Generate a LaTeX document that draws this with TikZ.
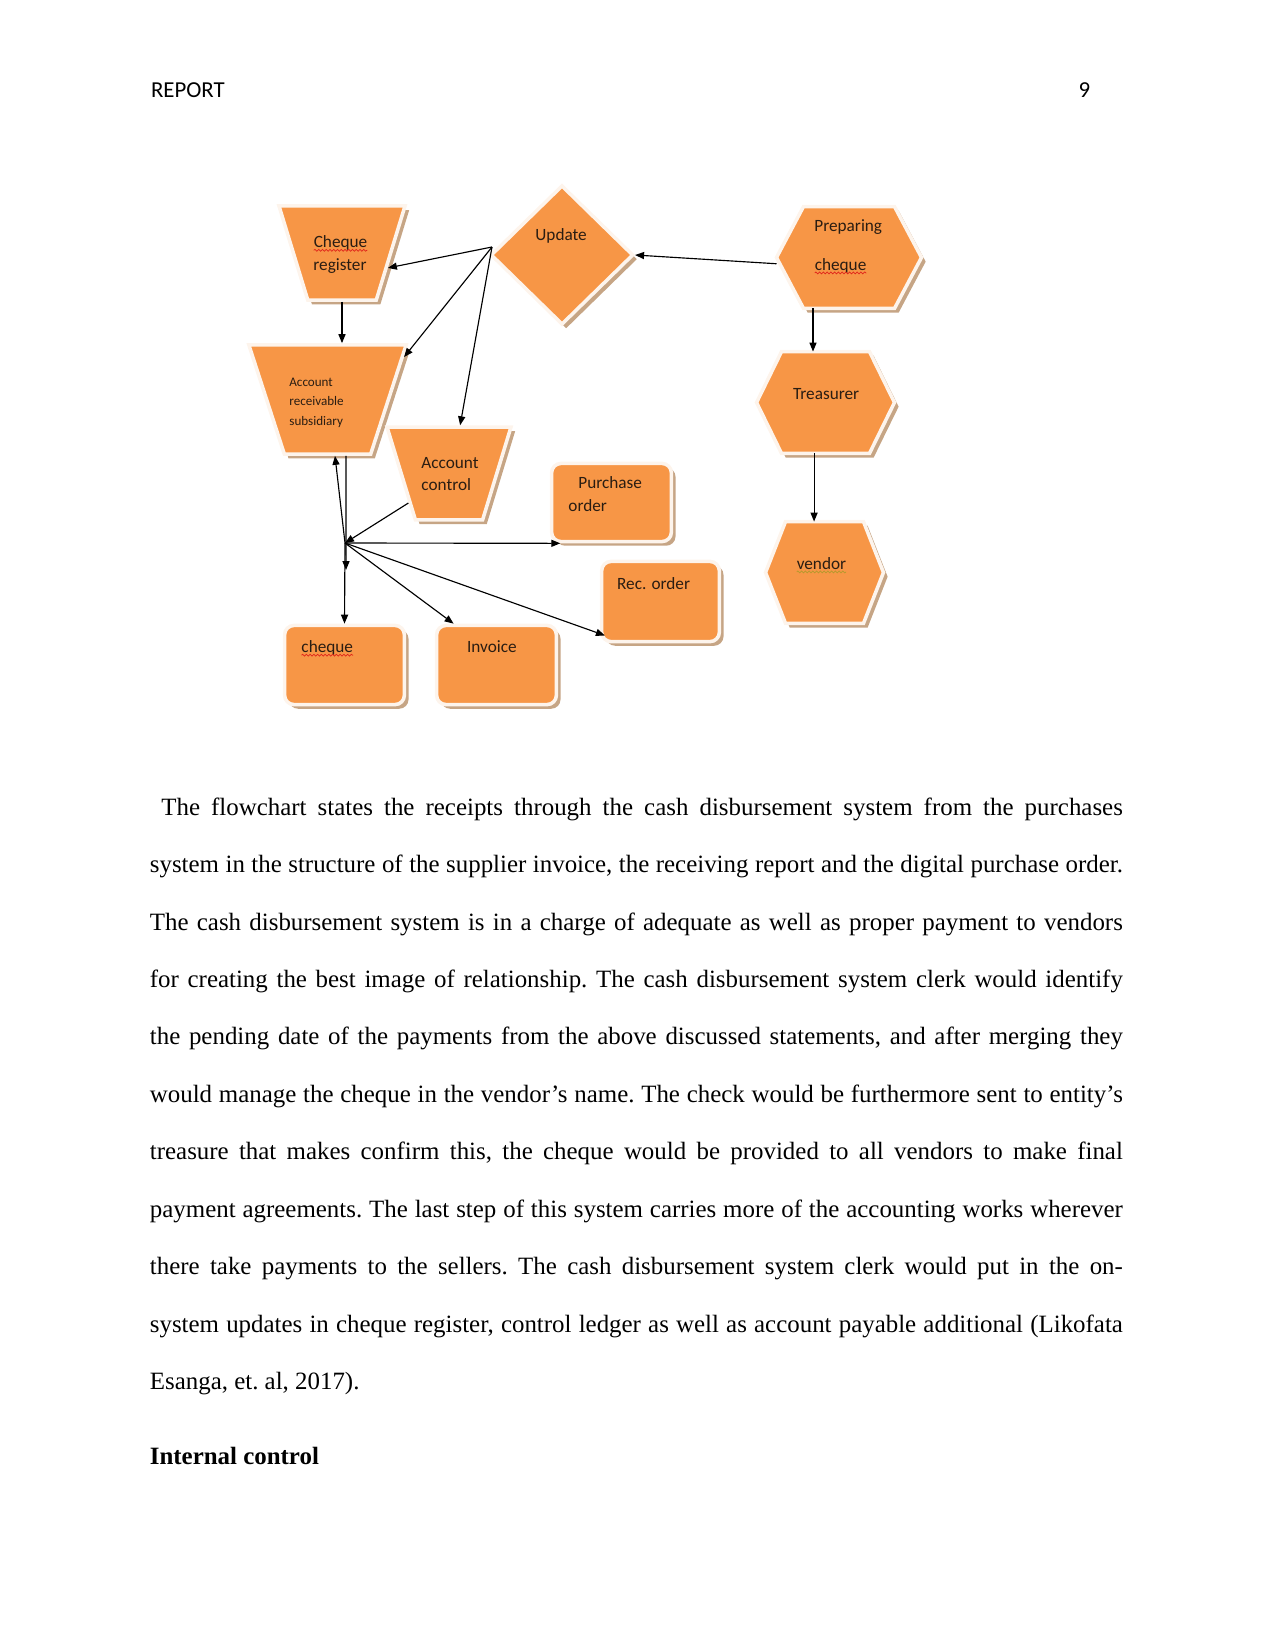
\documentclass[tikz,border=0pt]{standalone}
\usepackage{fontspec}
\setmainfont{Liberation Serif}
\newfontfamily\calibfont{Carlito}
\usetikzlibrary{arrows.meta,positioning,shapes.geometric,shadows,backgrounds,calc,decorations.pathmorphing}

\definecolor{plateOrange}{HTML}{F79646}
\definecolor{plateRim}{HTML}{FDF4EC}
\definecolor{plateShade}{HTML}{C6A585}
\definecolor{tagInk}{HTML}{2A1D12}
\definecolor{spellRed}{HTML}{E0261B}
\definecolor{spellGold}{HTML}{B59A2C}

\newcommand\squig[2]{\tikz[baseline=(w.base)]{\node[inner sep=0pt,outer sep=0pt] (w) {#2};
  \draw[#1, line width=0.35bp, decorate, decoration={snake,amplitude=0.45bp,segment length=1.8bp}]
    ([yshift=-1.4bp]w.base west) -- ([yshift=-1.4bp]w.base east);}}

\begin{document}
\begin{tikzpicture}[
    x=0.48bp, y=-0.48bp,
    plate/.style={fill=plateOrange, draw=plateRim, line width=1.7bp,
      drop shadow={shadow xshift=2bp, shadow yshift=-2bp, fill=plateShade, opacity=1}},
    card/.style={plate, rectangle, rounded corners=4.5bp, inner sep=0pt, minimum width=57.5bp, minimum height=38bp},
    hopper/.style={plate, trapezium, shape border rotate=180, trapezium stretches body, inner xsep=0pt},
    hexframe/.style={inner sep=0pt, minimum height=48.5bp},
    tag/.style={font=\calibfont\fontsize{8.3}{10.9}\selectfont, text=tagInk, inner sep=0pt, anchor=base west, align=left},
    link/.style={-{Triangle[length=4.3bp,width=3.4bp]}, line width=0.55bp, black}
]
\useasboundingbox (0,0) rectangle (1275,1651);

\node[font=\calibfont\fontsize{11}{13}\selectfont, anchor=base west, inner sep=0pt] (runhead) at (150.6,97) {REPORT};
\node[font=\calibfont\fontsize{11}{13}\selectfont, anchor=base, inner sep=0pt] (pageno) at (1084.5,97) {9};

\node[hopper, trapezium angle=73, inner ysep=22.6bp, minimum width=60.5bp] (chqreg) at (342,253) {};
\node[hopper, trapezium angle=72, inner ysep=26.2bp, minimum width=75.5bp] (accrec) at (327.5,399.5) {};
\node[hopper, trapezium angle=73, inner ysep=22.3bp, minimum width=59.5bp] (accctl) at (449,473.5) {};
\node[plate, diamond, inner sep=0pt, minimum width=68.5bp, minimum height=67bp] (upd) at (562,255) {};

\node[card, minimum height=37.5bp] (purch) at (611.5,502.5) {};
\node[card, minimum width=56.5bp, minimum height=38.5bp] (rec) at (660.5,601.5) {};
\node[card] (chq) at (344.5,665) {};
\node[card] (inv) at (496.5,665) {};

\node[hexframe, minimum width=69.2bp] (prep) at (849,257.5) {};
\node[hexframe, minimum width=65.8bp] (treas) at (825.5,402.5) {};
\node[hexframe, minimum width=56.2bp] (vendor) at (824.5,572.5) {};
\begin{scope}[on background layer]
\foreach \n/\d in {prep/27, treas/25, vendor/20}
  \path[plate] (\n.west) -- ($(\n.north west)+(\d,0)$) -- ($(\n.north east)+(-\d,0)$) -- (\n.east)
    -- ($(\n.south east)+(-\d,0)$) -- ($(\n.south west)+(\d,0)$) -- cycle;
\end{scope}

\node[tag] (chqreg-t) at (313,270) {\squig{spellRed}{Cheque}\\register};
\node[tag, font=\calibfont\fontsize{6.3}{9.2}\selectfont] (accrec-t) at (289,425) {Account\\receivable\\subsidiary};
\node[tag, font=\calibfont\fontsize{8.3}{10.8}\selectfont] (accctl-t) at (421,490.7) {Account\\control};
\node[tag] (upd-t) at (535,240.7) {Update};
\node[tag] (purch-t) at (568,511) {\hspace*{4.8bp}Purchase\\order};
\node[tag] (rec-t) at (616.7,589) {Rec. order};
\node[tag] (chq-t) at (300.7,652.3) {\squig{spellRed}{cheque}};
\node[tag] (inv-t) at (466.7,652.3) {Invoice};
\node[tag, font=\calibfont\fontsize{8.3}{18.4}\selectfont] (prep-t) at (814,270) {Preparing\\\squig{spellRed}{cheque}};
\node[tag] (treas-t) at (792.7,399.3) {Treasurer};
\node[tag] (vendor-t) at (796,569) {\squig{spellGold}{vendor}};

\coordinate (uphub) at (492,247);
\coordinate (fanhub) at (345,543);
\coordinate (arjoin) at (346,570);
\coordinate (treasin) at ([xshift=-6bp]treas.north);
\coordinate (vendin) at ([xshift=-5bp]vendor.north);

\draw[link] (uphub) -- (chqreg.-18);
\draw[link] (uphub) -- (accrec.29);
\draw[link] (uphub) -- (accctl.77);
\draw[link] (chqreg.south) -- (chqreg.south |- accrec.north);
\draw[link] ([yshift=-3bp]prep.west) -- (upd.east);
\draw[link] (treasin |- prep.south) -- (treasin);
\draw[link] (vendin |- treas.south) -- (vendin);
\draw[link] (accctl.216) -- (fanhub);
\draw[link] (fanhub) -- ([xshift=3.6bp]accrec.south);
\draw[link] ([xshift=8.9bp]accrec.south) -- (arjoin);
\draw[link] (fanhub) -- (chq.north);
\draw[link] (fanhub) -- ([xshift=5bp]purch.south west);
\draw[link] (fanhub) -- ([xshift=9bp]inv.north west);
\draw[link] (fanhub) -- ([shift={(2.4bp,3.8bp)}]rec.south west);

\node[anchor=base west, inner sep=0pt, text width=467bp, align=justify, font=\fontsize{12}{27.7}\selectfont] (bodytext) at (149.5,815)
{\frenchspacing\hspace*{5.5bp}The flowchart states the receipts through the cash disbursement system from the purchases\linebreak
system in the structure of the supplier invoice, the receiving report and the digital purchase order.\linebreak
The cash disbursement system is in a charge of adequate as well as proper payment to vendors\linebreak
for creating the best image of relationship. The cash disbursement system clerk would identify\linebreak
the pending date of the payments from the above discussed statements, and after merging they\linebreak
would manage the cheque in the vendor’s name. The check would be furthermore sent to entity’s\linebreak
treasure that makes confirm this, the cheque would be provided to all vendors to make final\linebreak
payment agreements. The last step of this system carries more of the accounting works wherever\linebreak
there take payments to the sellers. The cash disbursement system clerk would put in the on-\linebreak
system updates in cheque register, control ledger as well as account payable additional (Likofata\linebreak
Esanga, et. al, 2017).};
\node[anchor=base west, inner sep=0pt, font=\bfseries\fontsize{12}{14}\selectfont] (heading) at (149.5,1464) {Internal control};
\end{tikzpicture}
\end{document}
